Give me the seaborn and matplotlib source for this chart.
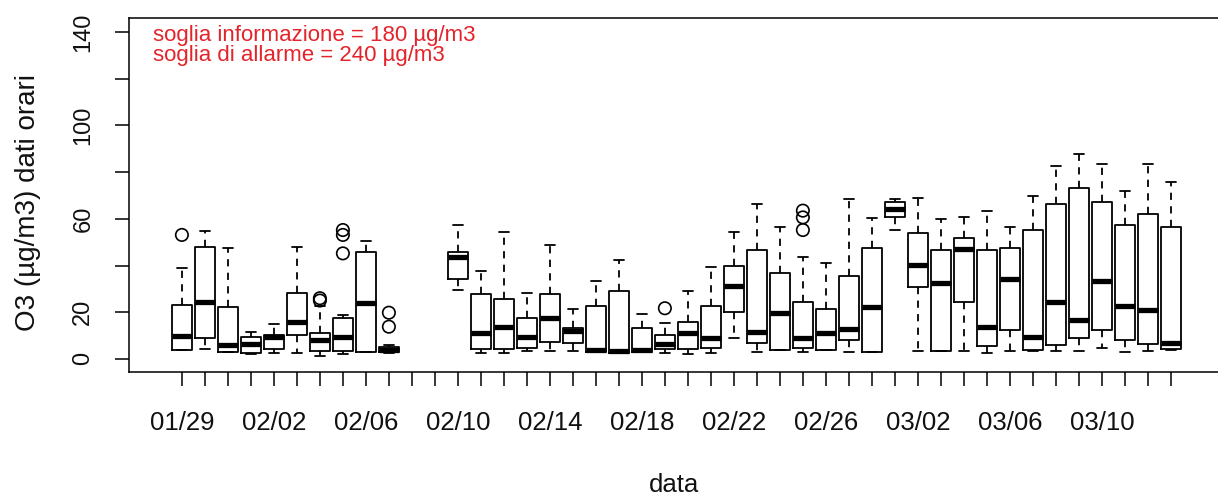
import numpy as np
import pandas as pd
import matplotlib
matplotlib.use("Agg")
import matplotlib.pyplot as plt
import seaborn as sns

# ---- data (hourly O3, µg/m3) ----
dates = ["01/29", "01/30", "01/31", "02/01", "02/02", "02/03", "02/04", "02/05",
         "02/06", "02/07", "02/10", "02/11", "02/12", "02/13", "02/14", "02/15",
         "02/16", "02/17", "02/18", "02/19", "02/20", "02/21", "02/22", "02/23",
         "02/24", "02/25", "02/26", "02/27", "02/28", "03/01", "03/02", "03/03",
         "03/04", "03/05", "03/06", "03/07", "03/08", "03/09", "03/10", "03/11",
         "03/12", "03/13"]
whisker_low = [3.9, 4.1, 3.1, 2.1, 2.7, 2.4, 1.3, 2.1, 3.1, 2.7,
               29.5, 2.7, 2.7, 3.6, 3.4, 3.4, 3.1, 2.7, 3.1, 2.7, 2.1, 2.7,
               8.8, 3.1, 3.9, 3.1, 3.9, 3.1, 3.1, 55.2, 3.6, 3.6,
               3.6, 2.7, 3.6, 3.6, 3.6, 3.6, 4.6, 3.1, 3.6, 3.9]
q1 = [3.9, 9.1, 3.1, 2.4, 4.1, 10.3, 3.6, 3.6, 3.1, 2.9,
      34.1, 4.1, 4.1, 4.6, 7.4, 6.7, 3.1, 2.7, 3.1, 4.1, 4.3, 4.6,
      20.0, 6.7, 3.9, 4.6, 3.9, 8.1, 3.1, 60.6, 30.7, 3.6,
      24.3, 5.6, 12.4, 3.9, 6.0, 8.8, 12.4, 8.1, 6.3, 4.1]
median = [10.0, 24.5, 6.0, 6.3, 9.3, 16.0, 8.1, 9.6, 23.8, 3.9,
          43.5, 11.0, 13.8, 9.3, 17.4, 12.1, 3.9, 3.6, 3.9, 6.4, 11.0, 9.0,
          31.3, 11.7, 19.5, 9.1, 11.0, 12.7, 22.4, 64.1, 40.2, 32.7,
          47.0, 13.8, 34.1, 9.6, 24.3, 16.7, 33.5, 22.8, 21.0, 7.0]
q3 = [23.1, 48.1, 22.1, 9.3, 10.3, 28.4, 11.0, 17.4, 45.9, 5.0,
      45.9, 27.7, 25.7, 17.4, 27.7, 13.1, 22.8, 29.2, 13.1, 10.3, 15.7, 22.8,
      39.8, 46.7, 36.9, 24.3, 21.4, 35.5, 47.4, 67.3, 53.8, 46.7,
      51.7, 46.7, 47.4, 55.2, 66.4, 73.3, 67.1, 57.4, 62.1, 56.4]
whisker_high = [38.8, 54.9, 47.4, 11.7, 15.0, 48.1, 22.7, 18.6, 50.6, 6.0,
                57.4, 37.7, 54.2, 28.4, 48.8, 21.4, 33.4, 42.4, 19.3, 15.5, 29.2, 39.5,
                54.2, 66.4, 56.4, 43.8, 40.9, 68.4, 60.5, 68.6, 69.1, 59.8,
                60.6, 63.5, 56.4, 69.8, 82.6, 87.8, 83.3, 71.9, 83.3, 75.9]

outlier_dates = ["01/29", "02/04", "02/04", "02/05", "02/05", "02/05",
                 "02/07", "02/07", "02/19", "02/25", "02/25", "02/25"]
outlier_values = [53.1, 25.0, 26.0, 45.2, 53.1, 55.2,
                  13.8, 19.8, 21.7, 55.2, 60.6, 63.5]

x_tick_labels = ["01/29", "02/02", "02/06", "02/10", "02/14", "02/18",
                 "02/22", "02/26", "03/02", "03/06", "03/10"]
last_date = "03/13"
y_ticks_all = [0, 20, 40, 60, 80, 100, 120, 140]
y_tick_labels = ["0", "20", "60", "100", "140"]

note_text = "soglia informazione = 180 µg/m3\nsoglia di allarme = 240 µg/m3"
x_title = "data"
y_title = "O3 (µg/m3) dati orari"

# ---- style ----
sns.set_style("ticks")
plt.rcParams["font.family"] = ["Liberation Sans", "DejaVu Sans"]

YEAR = "2019/"
t0 = pd.to_datetime(YEAR + dates[0])


def day_of(d):
    return (pd.to_datetime(YEAR + d) - t0).days


day = [day_of(d) for d in dates]
rows = []
for x, a, b, c, d_, e in zip(day, whisker_low, q1, median, q3, whisker_high):
    for v in (a, b, c, d_, e):
        rows.append({"day": x, "value": v})
df = pd.DataFrame(rows)

W, H = 1218, 497
fig = plt.figure(figsize=(W / 100, H / 100), dpi=100)
ax = fig.add_axes([129 / W, 1 - 372 / H, 1 - 129 / W, (372 - 18) / H])

sns.boxplot(data=df, x="day", y="value", native_scale=True, whis=np.inf,
            width=0.86, fill=False, color="black", linewidth=1.3,
            medianprops={"linewidth": 3.8, "solid_capstyle": "butt"},
            whiskerprops={"linestyle": (0, (4, 3.5))},
            ax=ax)

sns.scatterplot(x=[day_of(d) for d in outlier_dates], y=outlier_values,
                marker="o", s=80, facecolor="none", edgecolor="black",
                linewidth=1.2, ax=ax, zorder=4, legend=False)

ax.set_xlim(-2.30, 45.05)
ax.set_ylim(-5.6, 146)

ax.set_xticks([day_of(d) for d in x_tick_labels])
ax.set_xticklabels(x_tick_labels)
ax.set_xticks(range(0, day_of(last_date) + 1), minor=True)
ax.set_yticks([float(v) for v in y_tick_labels])
ax.set_yticklabels(y_tick_labels)
ax.set_yticks(y_ticks_all, minor=True)

ax.tick_params(axis="both", which="both", direction="out", length=10,
               width=1.1, color="black", labelcolor="#111111")
ax.tick_params(axis="x", which="major", pad=18, labelsize=18.5)
ax.tick_params(axis="y", which="major", pad=15, labelrotation=90, labelsize=17)
for lab in ax.get_yticklabels():
    lab.set_va("center")

for side in ["top", "left", "bottom"]:
    ax.spines[side].set_linewidth(1.1)
    ax.spines[side].set_color("black")
ax.spines["right"].set_visible(False)

ax.set_xlabel(x_title, fontsize=18.5, color="#111111")
ax.xaxis.label.set_va("center")
ax.xaxis.set_label_coords(0.5, -0.319)
ax.set_ylabel(y_title, fontsize=20, color="#111111")
ax.yaxis.label.set_va("center")
ax.yaxis.set_label_coords(-0.0927, 0.48)

ax.text(-1.26, 143.0, note_text, color="#e3242b", fontsize=16,
        va="top", ha="left", linespacing=0.95)

fig.savefig("out.png", dpi=100)
